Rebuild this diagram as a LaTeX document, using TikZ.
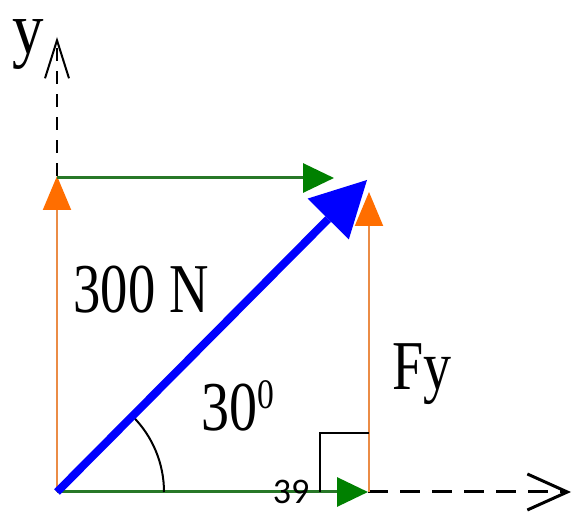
\documentclass[tikz,border=0pt]{standalone}
\usepackage{fontspec}
\setmainfont{Liberation Serif}
\newfontfamily\calib{Carlito}
\usetikzlibrary{arrows.meta}
\definecolor{vgreen}{RGB}{40,120,40}
\definecolor{tgreen}{RGB}{0,128,0}
\definecolor{vorange}{RGB}{235,140,70}
\definecolor{torange}{RGB}{255,110,0}
\begin{document}
\begin{tikzpicture}[x=1pt,y=-1pt,
  greenvec/.style={draw=vgreen,line width=3pt,-{Triangle[length=31pt,width=29pt,fill=tgreen,color=tgreen]}},
  orangevec/.style={draw=vorange,line width=2pt,-{Triangle[length=34pt,width=28pt,fill=torange,color=torange]}},
  axis/.style={draw=black,dashed},
  lbl/.style={inner sep=0pt,font=\fontsize{70}{80}\selectfont}]
\useasboundingbox (0,0) rectangle (574,518);
\fill[white] (0,0) rectangle (574,518);
\coordinate (O) at (57,492);
\coordinate (Bx) at (368,492);
\coordinate (Tl) at (57,176);
\coordinate (Tg) at (334,178);
\coordinate (Gs) at (57,178);
\coordinate (Rb) at (369,492);
\coordinate (Rt) at (369,192);
\coordinate (P) at (367,180);
\coordinate (Xe) at (571,492);
\coordinate (Ye) at (57,37);
\coordinate (Ra) at (320,492);
\coordinate (Rc) at (320,433);
\coordinate (Rd) at (369,433);
% axes
\draw[axis,line width=3pt,dash pattern=on 20pt off 12pt,-{Straight Barb[length=40pt,width=36pt,line width=3pt]}] (Bx) -- (Xe);
\draw[axis,line width=2pt,dash pattern=on 13pt off 10pt,-{Straight Barb[length=38pt,width=24pt,line width=2pt]}] (Tl) -- (Ye);
% component vectors
\draw[orangevec] (O) -- (Tl);
\draw[orangevec] (Rb) -- (Rt);
\draw[greenvec] (Gs) -- (Tg);
\draw[greenvec] (O) -- (Bx);
% right angle mark
\draw[black,line width=2pt] (Ra) -- (Rc) -- (Rd);
% angle arc
\draw[black,line width=2pt] (O) ++(0:107) arc[start angle=0,end angle=-45,radius=107];
% resultant
\draw[blue,line width=8pt,-{Triangle[length=55pt,width=58pt,line width=0pt]}] (O) -- (P);
% labels
\node[inner sep=0pt,anchor=base,font=\fontsize{74}{76}\selectfont] (ylab) at (28,54) {\scalebox{0.85}[1]{y}};
\node[lbl] (force) at (141,290) {\scalebox{0.78}[1]{300 N}};
\node[lbl] (ang) at (238,406) {\scalebox{0.8}[1]{30\raisebox{22pt}{\fontsize{42}{44}\selectfont 0}}};
\node[lbl] (fy) at (422,374) {\scalebox{0.8}[1]{Fy}};
\node[inner sep=0pt,font=\calib\fontsize{36}{40}\selectfont] (num) at (291,492) {39};
\end{tikzpicture}
\end{document}
